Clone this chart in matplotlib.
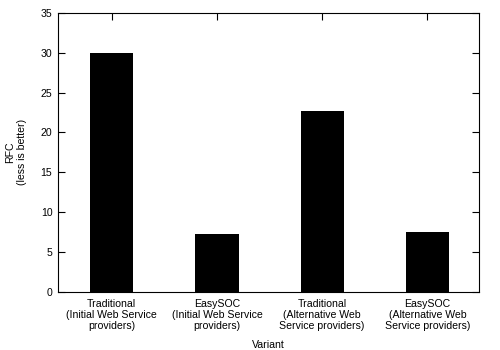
import matplotlib
matplotlib.use("Agg")
import matplotlib.pyplot as plt
import numpy as np

plt.rcParams['font.family'] = ['Liberation Sans', 'DejaVu Sans']

variants = ["Traditional\n(Initial Web Service\nproviders)",
            "EasySOC\n(Initial Web Service\nproviders)",
            "Traditional\n(Alternative Web\nService providers)",
            "EasySOC\n(Alternative Web\nService providers)"]
rfc = [30.0, 7.3, 22.7, 7.5]

fig = plt.figure(figsize=(5, 3.5), dpi=100)
ax = fig.add_axes([0.116, 0.166, 0.842, 0.797])

x = np.arange(len(variants))
ax.bar(x, rfc, width=0.41, color='black')

ax.set_xlim(-0.51, 3.49)
ax.set_ylim(0, 35)
ax.set_yticks(np.arange(0, 36, 5))
ax.set_xticks(x)
ax.set_xticklabels(variants, fontsize=7.6, linespacing=1.12)
ax.tick_params(axis='y', labelsize=7.6)
ax.tick_params(direction='in', length=5, width=0.8, top=True, right=True, pad=4)
ax.tick_params(axis='x', pad=5)
for s in ax.spines.values():
    s.set_linewidth(0.8)

ax.set_xlabel("Variant", fontsize=7.6, labelpad=7)
ax.set_ylabel("RFC\n(less is better)", fontsize=7.6, labelpad=10, linespacing=1.2)

fig.savefig("out.png", dpi=100)
